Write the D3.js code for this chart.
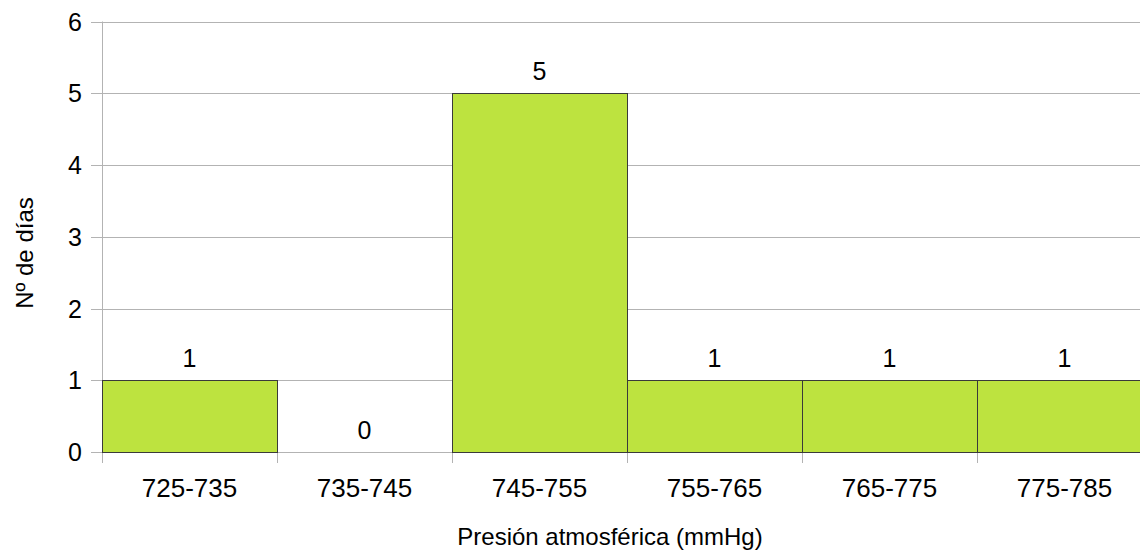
<!DOCTYPE html>
<html><head><meta charset="utf-8">
<script src="https://cdn.jsdelivr.net/npm/d3@7"></script>
<style>body{margin:0;background:#fff}svg{display:block;font-family:"Liberation Sans",Arial,sans-serif}</style>
</head><body><svg id="c" width="1140" height="550"></svg>
<script>
const categories = ["725-735","735-745","745-755","755-765","765-775","775-785"];
const values = [1,0,5,1,1,1];
const yTicks = [0,1,2,3,4,5,6];
const xTitle = "Presión atmosférica (mmHg)";
const yTitle = "Nº de días";

(function(){
const svg = d3.select("#c");
const mLeft = 102, mTop = 21.5, mBottom = 452;
const bandW = 175;
const x = d3.scaleBand().domain(categories).range([mLeft, mLeft + bandW*categories.length]).padding(0);
const y = d3.scaleLinear().domain([0,6]).range([mBottom, mTop]);

const grid = svg.append("g");
yTicks.forEach(t => {
  grid.append("line").attr("x1", mLeft-11).attr("x2", 1140).attr("y1", Math.round(y(t))+0.5).attr("y2", Math.round(y(t))+0.5)
    .attr("stroke", "#b3b3b3").attr("stroke-width", 1);
});
grid.append("line").attr("x1", mLeft+0.5).attr("x2", mLeft+0.5).attr("y1", mTop).attr("y2", mBottom+11).attr("stroke","#b3b3b3");
categories.forEach((c,i) => {
  const xx = Math.round(x(c) + bandW) + 0.5;
  grid.append("line").attr("x1", xx).attr("x2", xx).attr("y1", mBottom).attr("y2", mBottom+11).attr("stroke","#b3b3b3");
});

svg.append("g").selectAll("rect").data(values).join("rect")
  .attr("x", (d,i) => x(categories[i]) + 0.5)
  .attr("y", d => Math.round(y(d)) + 0.5)
  .attr("width", x.bandwidth())
  .attr("height", d => Math.max(0, Math.round(y(0)) - Math.round(y(d))))
  .attr("fill", "#bde33f").attr("stroke", "#3a3a3a").attr("stroke-width", 1);

svg.append("g").selectAll("text").data(values).join("text")
  .attr("x", (d,i) => x(categories[i]) + bandW/2)
  .attr("y", d => y(d) - 13)
  .attr("text-anchor","middle").attr("font-size", 25).attr("fill","#000")
  .text(d => d);

svg.append("g").selectAll("text").data(yTicks).join("text")
  .attr("x", 82).attr("y", d => y(d) + 9)
  .attr("text-anchor","end").attr("font-size", 25).text(d => d);

svg.append("g").selectAll("text").data(categories).join("text")
  .attr("x", c => x(c) + bandW/2).attr("y", 497)
  .attr("text-anchor","middle").attr("font-size", 26).text(c => c);

svg.append("text").attr("x", 610).attr("y", 545).attr("text-anchor","middle").attr("font-size", 24).text(xTitle);
svg.append("text").attr("transform","translate(33,253) rotate(-90)").attr("text-anchor","middle").attr("font-size", 24).text(yTitle);
})();
</script></body></html>
